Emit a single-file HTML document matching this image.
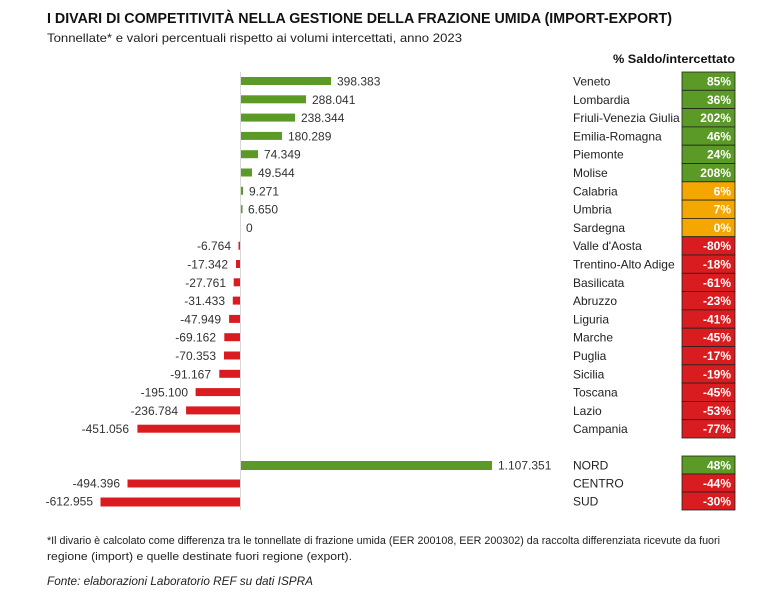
<!DOCTYPE html>
<html><head><meta charset="utf-8"><style>
html,body{margin:0;padding:0;background:#fff;}
svg{display:block;font-family:"Liberation Sans",sans-serif;}
</style></head><body>
<svg width="771" height="600" viewBox="0 0 771 600" xmlns="http://www.w3.org/2000/svg">
<text x="47" y="23" font-size="14.5" font-weight="bold" fill="#111" textLength="625" lengthAdjust="spacingAndGlyphs">I DIVARI DI COMPETITIVITÀ NELLA GESTIONE DELLA FRAZIONE UMIDA (IMPORT-EXPORT)</text>
<text x="47" y="42" font-size="12" fill="#222" textLength="415" lengthAdjust="spacingAndGlyphs">Tonnellate* e valori percentuali rispetto ai volumi intercettati, anno 2023</text>
<text x="735" y="63" font-size="12" font-weight="bold" fill="#111" text-anchor="end" textLength="122" lengthAdjust="spacingAndGlyphs">% Saldo/intercettato</text>
<line x1="240.5" y1="72" x2="240.5" y2="510" stroke="#d8d8d8" stroke-width="1"/>
<g font-size="12" fill="#333">
<!-- bars -->
<g fill="#5b9a26">
<rect x="241" y="77" width="90" height="8"/>
<rect x="241" y="95.3" width="65" height="8"/>
<rect x="241" y="113.6" width="54" height="8"/>
<rect x="241" y="131.9" width="41" height="8"/>
<rect x="241" y="150.2" width="17" height="8"/>
<rect x="241" y="168.5" width="11" height="8"/>
<rect x="241" y="186.8" width="2" height="8"/>
<rect x="241" y="205.1" width="1.5" height="8"/>
<rect x="241" y="461" width="251" height="9"/>
</g>
<g fill="#d91c20">
<rect x="238.5" y="241.7" width="1.5" height="8"/>
<rect x="236" y="260" width="4" height="8"/>
<rect x="233.7" y="278.3" width="6.3" height="8"/>
<rect x="232.8" y="296.6" width="7.2" height="8"/>
<rect x="229.1" y="314.9" width="10.9" height="8"/>
<rect x="224.3" y="333.2" width="15.7" height="8"/>
<rect x="224" y="351.5" width="16" height="8"/>
<rect x="219.3" y="369.8" width="20.7" height="8"/>
<rect x="195.6" y="388.1" width="44.4" height="8"/>
<rect x="186.1" y="406.4" width="53.9" height="8"/>
<rect x="137.4" y="424.7" width="102.6" height="8"/>
<rect x="127.5" y="479.5" width="112.5" height="8"/>
<rect x="100.5" y="497.5" width="139.5" height="9"/>
</g>
<!-- value labels -->
<text x="337" y="85.5">398.383</text>
<text x="312" y="103.8">288.041</text>
<text x="301" y="122.1">238.344</text>
<text x="288" y="140.4">180.289</text>
<text x="264" y="158.7">74.349</text>
<text x="258" y="177">49.544</text>
<text x="249" y="195.3">9.271</text>
<text x="248" y="213.6">6.650</text>
<text x="246" y="231.9">0</text>
<text x="498" y="469.5">1.107.351</text>
<g text-anchor="end">
<text x="231" y="250.2">-6.764</text>
<text x="228" y="268.5">-17.342</text>
<text x="226" y="286.8">-27.761</text>
<text x="225" y="305.1">-31.433</text>
<text x="221" y="323.4">-47.949</text>
<text x="216" y="341.7">-69.162</text>
<text x="216" y="360">-70.353</text>
<text x="211" y="378.3">-91.167</text>
<text x="188" y="396.6">-195.100</text>
<text x="178" y="414.9">-236.784</text>
<text x="129" y="433.2">-451.056</text>
<text x="120" y="487.5">-494.396</text>
<text x="93" y="505.5">-612.955</text>
</g>
<!-- region names -->
<g fill="#222">
<text x="573" y="85.5">Veneto</text>
<text x="573" y="103.8">Lombardia</text>
<text x="573" y="122.1">Friuli-Venezia Giulia</text>
<text x="573" y="140.4">Emilia-Romagna</text>
<text x="573" y="158.7">Piemonte</text>
<text x="573" y="177">Molise</text>
<text x="573" y="195.3">Calabria</text>
<text x="573" y="213.6">Umbria</text>
<text x="573" y="231.9">Sardegna</text>
<text x="573" y="250.2">Valle d'Aosta</text>
<text x="573" y="268.5">Trentino-Alto Adige</text>
<text x="573" y="286.8">Basilicata</text>
<text x="573" y="305.1">Abruzzo</text>
<text x="573" y="323.4">Liguria</text>
<text x="573" y="341.7">Marche</text>
<text x="573" y="360">Puglia</text>
<text x="573" y="378.3">Sicilia</text>
<text x="573" y="396.6">Toscana</text>
<text x="573" y="414.9">Lazio</text>
<text x="573" y="433.2">Campania</text>
<text x="573" y="469.5">NORD</text>
<text x="573" y="487.5">CENTRO</text>
<text x="573" y="505.5">SUD</text>
</g>
</g>
<!-- percent boxes -->
<g stroke="#222" stroke-width="0.8">
<rect x="682" y="72" width="53" height="18.3" fill="#5b9a26"/>
<rect x="682" y="90.3" width="53" height="18.3" fill="#5b9a26"/>
<rect x="682" y="108.6" width="53" height="18.3" fill="#5b9a26"/>
<rect x="682" y="126.9" width="53" height="18.3" fill="#5b9a26"/>
<rect x="682" y="145.2" width="53" height="18.3" fill="#5b9a26"/>
<rect x="682" y="163.5" width="53" height="18.3" fill="#5b9a26"/>
<rect x="682" y="181.8" width="53" height="18.3" fill="#f4a700"/>
<rect x="682" y="200.1" width="53" height="18.3" fill="#f4a700"/>
<rect x="682" y="218.4" width="53" height="18.3" fill="#f4a700"/>
<rect x="682" y="236.7" width="53" height="18.3" fill="#d91c20"/>
<rect x="682" y="255" width="53" height="18.3" fill="#d91c20"/>
<rect x="682" y="273.3" width="53" height="18.3" fill="#d91c20"/>
<rect x="682" y="291.6" width="53" height="18.3" fill="#d91c20"/>
<rect x="682" y="309.9" width="53" height="18.3" fill="#d91c20"/>
<rect x="682" y="328.2" width="53" height="18.3" fill="#d91c20"/>
<rect x="682" y="346.5" width="53" height="18.3" fill="#d91c20"/>
<rect x="682" y="364.8" width="53" height="18.3" fill="#d91c20"/>
<rect x="682" y="383.1" width="53" height="18.3" fill="#d91c20"/>
<rect x="682" y="401.4" width="53" height="18.3" fill="#d91c20"/>
<rect x="682" y="419.7" width="53" height="18.3" fill="#d91c20"/>
<rect x="682" y="456" width="53" height="18" fill="#5b9a26"/>
<rect x="682" y="474" width="53" height="18" fill="#d91c20"/>
<rect x="682" y="492" width="53" height="18" fill="#d91c20"/>
</g>
<g font-size="12" font-weight="bold" fill="#fff" text-anchor="end">
<text x="731" y="85.5">85%</text>
<text x="731" y="103.8">36%</text>
<text x="731" y="122.1">202%</text>
<text x="731" y="140.4">46%</text>
<text x="731" y="158.7">24%</text>
<text x="731" y="177">208%</text>
<text x="731" y="195.3">6%</text>
<text x="731" y="213.6">7%</text>
<text x="731" y="231.9">0%</text>
<text x="731" y="250.2">-80%</text>
<text x="731" y="268.5">-18%</text>
<text x="731" y="286.8">-61%</text>
<text x="731" y="305.1">-23%</text>
<text x="731" y="323.4">-41%</text>
<text x="731" y="341.7">-45%</text>
<text x="731" y="360">-17%</text>
<text x="731" y="378.3">-19%</text>
<text x="731" y="396.6">-45%</text>
<text x="731" y="414.9">-53%</text>
<text x="731" y="433.2">-77%</text>
<text x="731" y="469.5">48%</text>
<text x="731" y="487.5">-44%</text>
<text x="731" y="505.5">-30%</text>
</g>
<g font-size="11" fill="#222">
<text x="47" y="544" textLength="673" lengthAdjust="spacingAndGlyphs">*Il divario è calcolato come differenza tra le tonnellate di frazione umida (EER 200108, EER 200302) da raccolta differenziata ricevute da fuori</text>
<text x="47" y="560" textLength="305" lengthAdjust="spacingAndGlyphs">regione (import) e quelle destinate fuori regione (export).</text>
<text x="47" y="585" font-style="italic" font-size="12" textLength="266" lengthAdjust="spacingAndGlyphs">Fonte: elaborazioni Laboratorio REF su dati ISPRA</text>
</g>
</svg>
</body></html>
